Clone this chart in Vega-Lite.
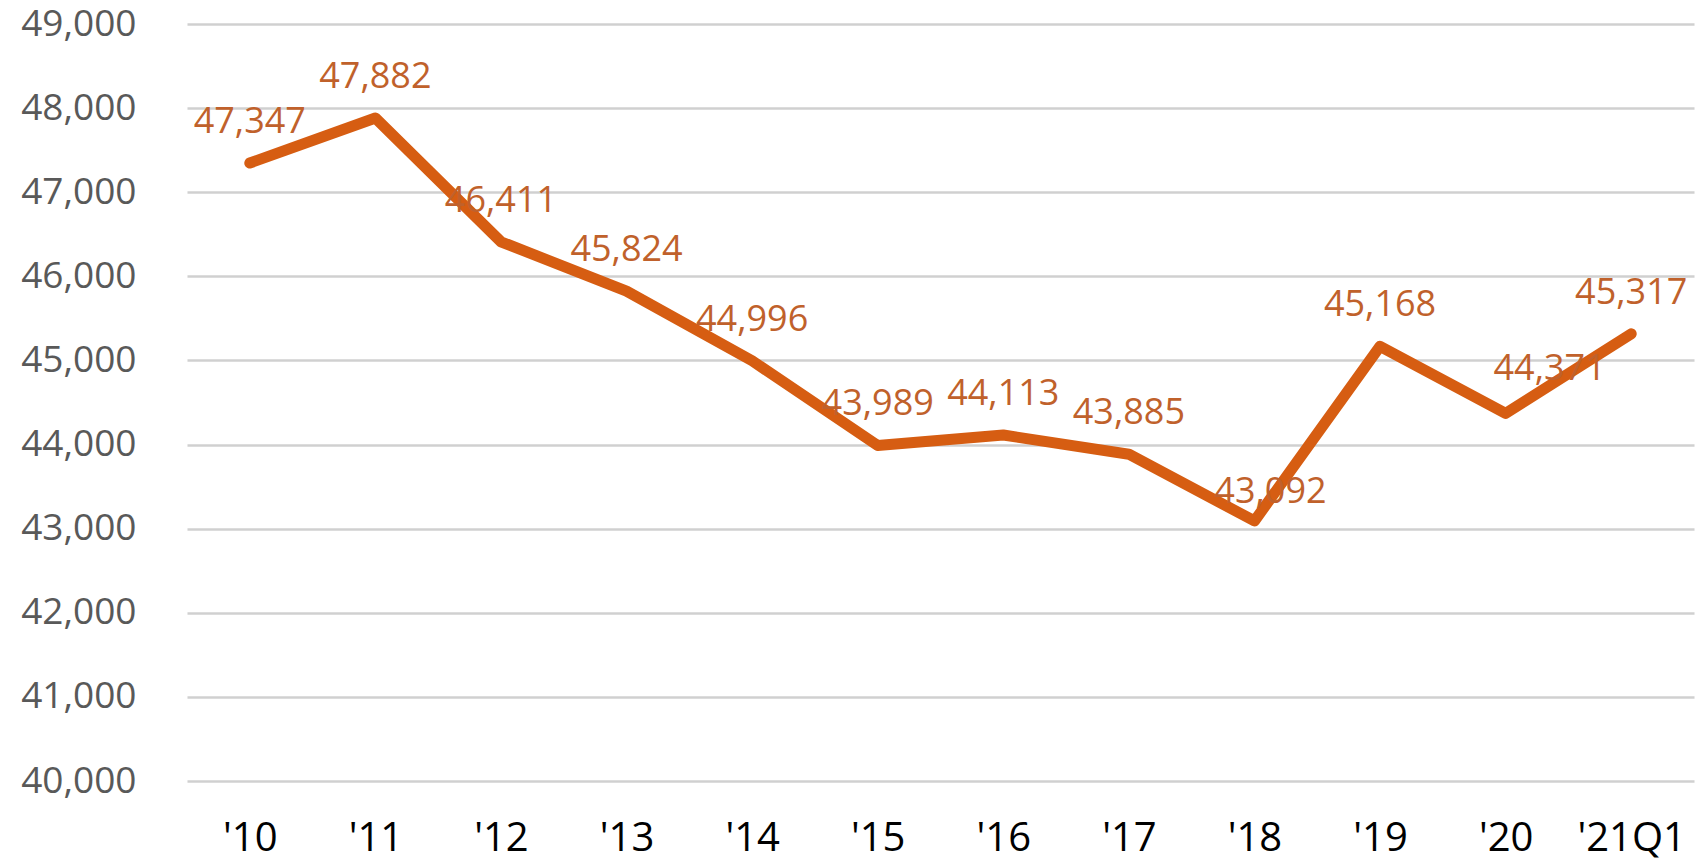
{
  "$schema": "https://vega.github.io/schema/vega-lite/v6.json",
  "width": 1507,
  "height": 757,
  "autosize": {"type": "none"},
  "padding": {"left": 187, "top": 24, "right": 7, "bottom": 81},
  "background": "#ffffff",
  "config": {"view": {"stroke": null}},
  "data": {
    "values": [
      {"period": "'10", "value": 47347},
      {"period": "'11", "value": 47882},
      {"period": "'12", "value": 46411},
      {"period": "'13", "value": 45824},
      {"period": "'14", "value": 44996},
      {"period": "'15", "value": 43989},
      {"period": "'16", "value": 44113},
      {"period": "'17", "value": 43885},
      {"period": "'18", "value": 43092},
      {"period": "'19", "value": 45168},
      {"period": "'20", "value": 44371},
      {"period": "'21Q1", "value": 45317}
    ]
  },
  "encoding": {
    "x": {
      "field": "period",
      "type": "ordinal",
      "sort": null,
      "scale": {"type": "point", "padding": 0.5},
      "axis": {
        "title": null,
        "labelAngle": 0,
        "labelFont": "Open Sans",
        "labelFontSize": 40,
        "labelColor": "#000000",
        "labelPadding": 37,
        "labelBaseline": "top",
        "ticks": false,
        "domain": false,
        "grid": false
      }
    },
    "y": {
      "field": "value",
      "type": "quantitative",
      "scale": {"domain": [40000, 49000], "nice": false, "zero": false},
      "axis": {
        "title": null,
        "values": [40000, 41000, 42000, 43000, 44000, 45000, 46000, 47000, 48000, 49000],
        "format": ",.0f",
        "labelFont": "Open Sans",
        "labelFontSize": 37,
        "labelColor": "#595959",
        "labelPadding": 51,
        "ticks": false,
        "domain": false,
        "grid": true,
        "gridColor": "#D0D0D0",
        "gridWidth": 2.5
      }
    }
  },
  "layer": [
    {
      "mark": {"type": "line", "color": "#D65D12", "strokeWidth": 11, "strokeCap": "round", "strokeJoin": "round"}
    },
    {
      "transform": [{"filter": "datum.period != \"'18\" && datum.period != \"'20\""}],
      "mark": {"type": "text", "font": "Open Sans", "fontSize": 36, "color": "#C0612B", "dy": -41, "baseline": "middle", "align": "center"},
      "encoding": {"text": {"field": "value", "type": "quantitative", "format": ",.0f"}}
    },
    {
      "transform": [{"filter": "datum.period == \"'18\""}],
      "mark": {"type": "text", "font": "Open Sans", "fontSize": 36, "color": "#C0612B", "dy": -29, "dx": 16, "baseline": "middle", "align": "center"},
      "encoding": {"text": {"field": "value", "type": "quantitative", "format": ",.0f"}}
    },
    {
      "transform": [{"filter": "datum.period == \"'20\""}],
      "mark": {"type": "text", "font": "Open Sans", "fontSize": 36, "color": "#C0612B", "dy": -44, "dx": 44, "baseline": "middle", "align": "center"},
      "encoding": {"text": {"field": "value", "type": "quantitative", "format": ",.0f"}}
    }
  ]
}
